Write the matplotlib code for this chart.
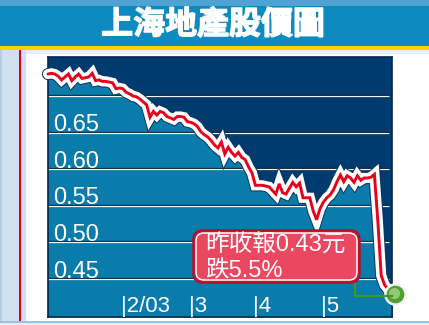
import matplotlib
matplotlib.use("Agg")
import matplotlib.pyplot as plt
import matplotlib.patheffects as pe
from matplotlib.patches import Rectangle, FancyBboxPatch
from matplotlib.transforms import IdentityTransform
from matplotlib.lines import Line2D
import numpy as np

# ---------------- data ----------------
title = "上海地產股價圖"
prices = [
    0.730, 0.731, 0.730, 0.727, 0.722, 0.726, 0.730, 0.721, 0.726, 0.730,
    0.724, 0.725, 0.726, 0.731, 0.721, 0.722, 0.720, 0.720, 0.719, 0.718,
    0.710, 0.711, 0.710, 0.705, 0.703, 0.700, 0.699, 0.696, 0.692, 0.688,
    0.671, 0.679, 0.674, 0.679, 0.677, 0.672, 0.670, 0.668, 0.672, 0.672,
    0.671, 0.665, 0.664, 0.662, 0.658, 0.651, 0.647, 0.644, 0.639, 0.633,
    0.629, 0.637, 0.621, 0.630, 0.623, 0.618, 0.623, 0.616, 0.613, 0.603,
    0.595, 0.578, 0.578, 0.578, 0.577, 0.576, 0.571, 0.566, 0.580, 0.568,
    0.566, 0.574, 0.582, 0.576, 0.581, 0.561, 0.561, 0.561, 0.543, 0.531,
    0.546, 0.555, 0.561, 0.565, 0.572, 0.583, 0.592, 0.583, 0.591, 0.588,
    0.582, 0.591, 0.585, 0.588, 0.588, 0.589, 0.593, 0.530, 0.455, 0.442,
    0.436, 0.433, 0.430,
]
y_gridlines = [0.70, 0.65, 0.60, 0.55, 0.50, 0.45]
y_labels = ["0.65", "0.60", "0.55", "0.50", "0.45"]
y_label_values = [0.65, 0.60, 0.55, 0.50, 0.45]
month_tick_index = [22, 42, 61, 81]
month_labels = ["|2/03", "|3", "|4", "|5"]
note_line1 = "昨收報0.43元"
note_line2 = "跌5.5%"

# ---------------- figure ----------------
W, H = 429, 325
fig = plt.figure(figsize=(W / 100, H / 100), dpi=100)
fig.patch.set_facecolor("white")

def prect(x, y, w, h, color, z=-5):
    fig.add_artist(Rectangle((x, H - y - h), w, h, transform=IdentityTransform(),
                             facecolor=color, edgecolor="none", zorder=z))

# header
prect(0, 0, W, 46, "#0b8bc0")
prect(0, 0, W, 6, "#4fa3d2")
prect(0, 46, W, 4, "#f7d400")
prect(0, 50, W, 4, "#e6eff6")
# left strip
prect(0, 50, 26, 275, "#cfe0ef")
prect(0, 50, 2, 275, "#b3cde2")
prect(19, 50, 2, 273, "#e00010", z=-4)
# bottom line
prect(0, 321, W, 2, "#9cc2de", z=-4)
prect(0, 323, W, 2, "#e4edf4", z=-4)

fig.text(0.497, 1 - 25 / H, title, fontsize=23, fontweight="bold", color="white",
         ha="center", va="center", family=["Noto Sans CJK TC", "DejaVu Sans"],
         path_effects=[pe.withStroke(linewidth=1.0, foreground="white")])

# ---------------- axes ----------------
ax_l, ax_r, ax_t, ax_b = 48, 392, 57, 317
ax = fig.add_axes([ax_l / W, 1 - ax_b / H, (ax_r - ax_l) / W, (ax_b - ax_t) / H])
navy = "#003b6f"
teal = "#0a7cab"
ax.set_facecolor(navy)
x = np.arange(len(prices))
px_per_day = 3.4
xmax = (ax_r - ax_l) / px_per_day
ax.set_xlim(0, xmax)
ymin, ymax = 0.3981, 0.7533
ax.set_ylim(ymin, ymax)
dy = (ymax - ymin) / (ax_b - ax_t)  # value per pixel

ax.fill_between(x, prices, ymin, color=teal, lw=0, zorder=1)

for g in y_gridlines:
    ax.hlines(g + dy, 0, xmax * 0.991, color="#05142a", lw=0.9, zorder=2)
    ax.hlines(g, 0, xmax * 0.991, color="#f4f4f4", lw=0.9, zorder=2)

for lab, v in zip(y_labels, y_label_values):
    ax.text(5 / px_per_day, v + 1.5 * dy, lab, color="white", fontsize=17,
            family="Liberation Sans", ha="left", va="baseline", zorder=3)

for t, lab in zip(month_tick_index, month_labels):
    ax.text(t - 0.6, 0.042, lab, color="white", fontsize=16,
            family="Liberation Sans", ha="left", va="center", zorder=3,
            transform=ax.get_xaxis_transform())

ax.plot(x, prices, color="#e8001c", lw=2.1, solid_joinstyle="miter",
        solid_capstyle="round", clip_on=False, zorder=5,
        path_effects=[pe.Stroke(linewidth=8.8, foreground="#0a3a66"),
                      pe.Stroke(linewidth=7.3, foreground="white"),
                      pe.Normal()])

for s in ax.spines.values():
    s.set_color("#06284f")
    s.set_linewidth(1.2)
ax.set_xticks([])
ax.set_yticks([])

# ---------------- annotation ----------------
gx = [355, 355, 392]
gy = [H - 283, H - 296, H - 296]
fig.add_artist(Line2D(gx, gy, transform=IdentityTransform(), color="#3c9a22",
                      lw=1.6, zorder=8))

ax.plot([x[-1]], [prices[-1]], "o", ms=14.5, mfc="#4f9f32", mec="#f2f2f2", mew=1.8,
        clip_on=False, zorder=9)
ax.plot([x[-1] - 0.3], [prices[-1] + 1 * dy], "o", ms=8, mfc="#9fd27e", mec="none",
        clip_on=False, zorder=10, alpha=0.85)

fig.add_artist(FancyBboxPatch((193, H - 283), 167, 53,
                              boxstyle="round,pad=0,rounding_size=10",
                              transform=IdentityTransform(), facecolor="#c8142f",
                              edgecolor="#b00e26", lw=1, zorder=11))
fig.add_artist(FancyBboxPatch((196, H - 280), 161, 47,
                              boxstyle="round,pad=0,rounding_size=8",
                              transform=IdentityTransform(), facecolor="#ea4760",
                              edgecolor="white", lw=1.1, zorder=12))
fam = ["Liberation Sans", "Noto Sans CJK TC"]
fig.text(205, H - 246, note_line1, transform=IdentityTransform(), color="white",
         fontsize=17, family=fam, ha="left", va="center", zorder=13)
fig.text(205, H - 271, note_line2, transform=IdentityTransform(), color="white",
         fontsize=17, family=fam, ha="left", va="center", zorder=13)

fig.savefig("out.png", dpi=100, facecolor=fig.get_facecolor())
